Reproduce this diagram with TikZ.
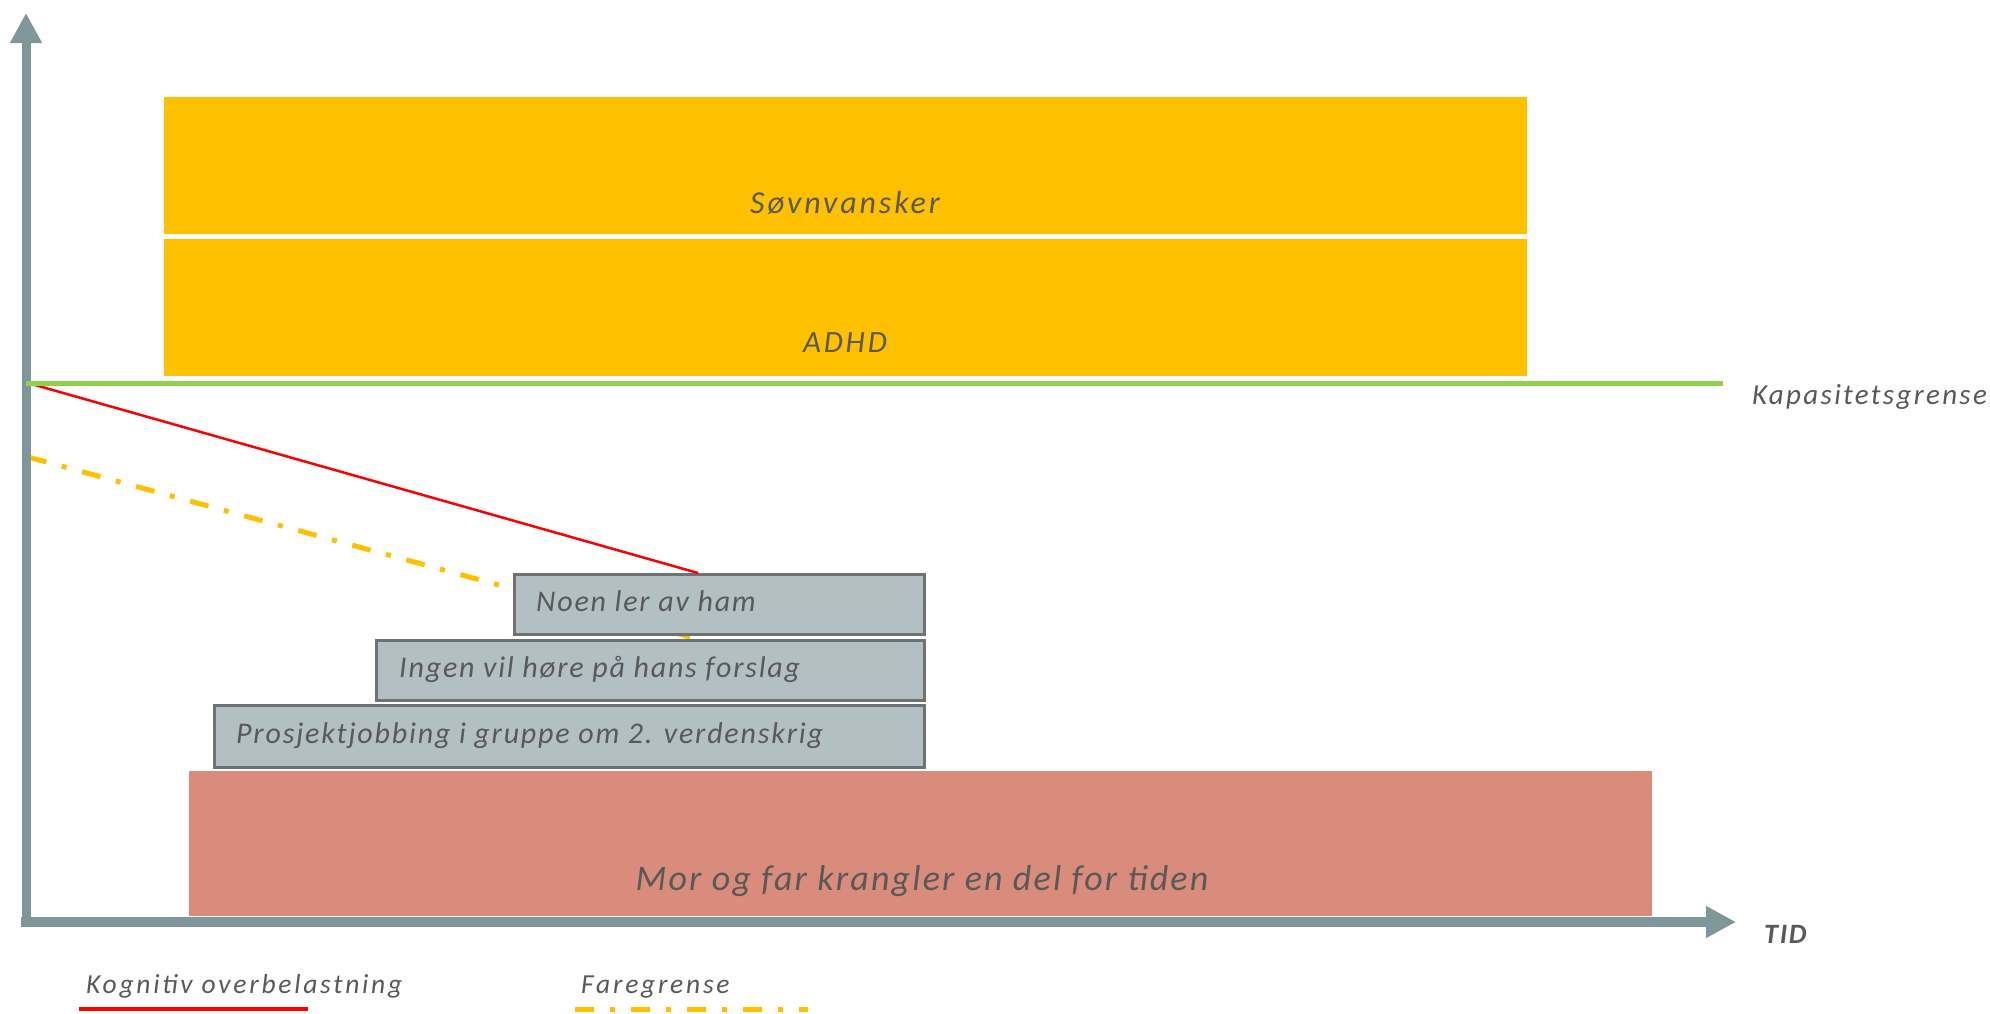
\documentclass[tikz,border=0pt]{standalone}
\usepackage{fontspec}
\setmainfont{Carlito}
\newfontfamily\calsp[LetterSpace=6]{Carlito}
\newfontfamily\calspk[LetterSpace=8]{Carlito}
\newfontfamily\calspw[LetterSpace=9]{Carlito}
\newfontfamily\calspl[LetterSpace=10]{Carlito}
\usetikzlibrary{arrows.meta}
\definecolor{axisc}{HTML}{7F969B}
\definecolor{yel}{HTML}{FFC000}
\definecolor{grn}{HTML}{92D050}
\definecolor{salmon}{HTML}{D98C7B}
\definecolor{boxg}{HTML}{B2BFC3}
\definecolor{boxb}{HTML}{6E7273}
\definecolor{txt}{HTML}{595959}
\tikzset{
  axis/.style={draw=axisc, -{Triangle[length=30bp,width=30bp]}},
  yelbox/.style={fill=yel, draw=none, anchor=north west, inner sep=0pt},
  graybox/.style={fill=boxg, draw=boxb, line width=2.5bp, anchor=north west, inner sep=0pt},
  lbl/.style={text=txt, inner sep=0pt},
  boxtxt/.style={lbl, anchor=base west, font=\calsp\itshape\fontsize{30bp}{34bp}\selectfont},
  legtxt/.style={lbl, anchor=base west, font=\calspl\itshape\fontsize{27.5bp}{34bp}\selectfont},
  dashdot5/.style={yel, line width=5bp, dash pattern=on 19bp off 16bp on 5bp off 16bp},
}
\begin{document}
\begin{tikzpicture}[x=1bp, y=-1bp]
\useasboundingbox (0,0) rectangle (1990,1013);
% yellow boxes
\node[yelbox, minimum width=1363bp, minimum height=137bp] (sovn) at (164,97) {};
\node[yelbox, minimum width=1363bp, minimum height=137bp] (adhd) at (164,239) {};
% salmon box
\node[yelbox, fill=salmon, minimum width=1463bp, minimum height=145bp] (mor) at (189,771) {};
% lines
\coordinate (redstart) at (28,383);
\coordinate (yelstart) at (28,457);
\coordinate (yelend) at (690,637);
\coordinate (redend) at (698,573);
\draw[dashdot5] (yelstart) -- (yelend);
% gray boxes
\node[graybox, minimum width=410bp, minimum height=60bp] (noen) at (513,573) {};
\node[graybox, minimum width=548bp, minimum height=60bp] (ingen) at (375,639) {};
\node[graybox, minimum width=710bp, minimum height=62bp] (prosj) at (213,704) {};
\draw[red, line width=2.5bp] (redstart) -- (redend);
% axes
\coordinate (orig) at (26,927);
\coordinate (ytop) at (26,13);
\coordinate (xorig) at (21,922);
\coordinate (xend) at (1736,922);
\draw[axis, line width=9bp] (orig) -- (ytop);
\draw[axis, line width=10bp] (xorig) -- (xend);
\coordinate (gstart) at (26,383);
\coordinate (gend) at (1723,383);
\draw[grn, line width=5bp] (gstart) -- (gend);
% texts
\node[lbl, anchor=base, font=\calspw\itshape\fontsize{32bp}{38bp}\selectfont] (tsovn) at (845,213) {Søvnvansker};
\node[lbl, anchor=base, font=\calspw\itshape\fontsize{31bp}{38bp}\selectfont] (tadhd) at (845,352) {ADHD};
\node[lbl, anchor=base, font=\calsp\itshape\fontsize{36bp}{42bp}\selectfont] (tmor) at (922,890) {Mor og far krangler en del for tiden};
\node[boxtxt] (tnoen) at (536,611) {Noen ler av ham};
\node[boxtxt] (tingen) at (399,677) {Ingen vil høre på hans forslag};
\node[boxtxt] (tprosj) at (236,743) {Prosjektjobbing i gruppe om 2. verdenskrig};
\node[lbl, anchor=base west, font=\calspk\itshape\fontsize{29bp}{34bp}\selectfont] (tkap) at (1752,404) {Kapasitetsgrense};
\node[lbl, anchor=base west, font=\calsp\bfseries\itshape\fontsize{28bp}{34bp}\selectfont] (ttid) at (1764,943) {TID};
\node[legtxt] (tkog) at (86,993) {Kognitiv overbelastning};
\node[legtxt] (tfare) at (581,993) {Faregrense};
% legend lines
\coordinate (lr1) at (79,1009);
\coordinate (lr2) at (308,1009);
\coordinate (ly1) at (575,1009);
\coordinate (ly2) at (808,1009);
\draw[red, line width=3.5bp] (lr1) -- (lr2);
\draw[dashdot5] (ly1) -- (ly2);
\end{tikzpicture}
\end{document}
